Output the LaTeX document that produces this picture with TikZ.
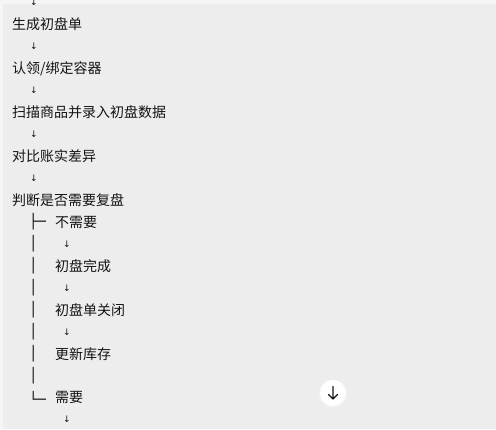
\documentclass[tikz,border=0pt]{standalone}
\usepackage{fontspec}
\usetikzlibrary{positioning}
\newfontfamily\cjk{Noto Sans CJK SC}
\newfontfamily\boxfont{DejaVu Sans Mono}
\newfontfamily\arrowfont{DejaVu Sans}
\definecolor{pagebg}{HTML}{EDEDED}
\definecolor{edgebg}{HTML}{F5F5F5}
\definecolor{ink}{HTML}{141414}

\begin{document}
\begin{tikzpicture}[x=1pt,y=-1pt,
    every node/.style={inner sep=0pt,text=ink},
    step text/.style={anchor=west,font=\cjk\fontsize{14}{16}\selectfont},
    down mark/.style={font=\arrowfont\fontsize{9}{10}\selectfont},
    tree mark/.style={anchor=west,font=\boxfont\fontsize{14}{16}\selectfont}]

    % page
    \useasboundingbox (0,0) rectangle (496,429);
    \fill[pagebg] (0,0) rectangle (496,429);
    \fill[edgebg] (0,0) rectangle (496,4);
    \fill[edgebg] (0,0) rectangle (3,429);

    % main steps
    \node[down mark] (a0) at (34,2.5) {↓};
    \node[step text] (create) at (12,24.45) {生成初盘单};
    \node[down mark] (a1) at (34,46.4) {↓};
    \node[step text] (claim) at (12,68.35) {认领/绑定容器};
    \node[down mark] (a2) at (34,90.3) {↓};
    \node[step text] (scan) at (12,112.25) {扫描商品并录入初盘数据};
    \node[down mark] (a3) at (34,134.2) {↓};
    \node[step text] (compare) at (12,156.15) {对比账实差异};
    \node[down mark] (a4) at (34,178.1) {↓};
    \node[step text] (decide) at (12,200.05) {判断是否需要复盘};

    % branch: no recount
    \node[tree mark] (t0) at (29,222) {├─};
    \node[step text] (norecount) at (55,222) {不需要};
    \node[tree mark] (t1) at (29,243.95) {│};
    \node[down mark] (b1) at (67,243.95) {↓};
    \node[step text] (done) at (55,265.9) {初盘完成};
    \node[tree mark] (t2) at (29,265.9) {│};
    \node[tree mark] (t3) at (29,287.85) {│};
    \node[down mark] (b2) at (67,287.85) {↓};
    \node[step text] (closed) at (55,309.8) {初盘单关闭};
    \node[tree mark] (t4) at (29,309.8) {│};
    \node[tree mark] (t5) at (29,331.75) {│};
    \node[down mark] (b3) at (67,331.75) {↓};
    \node[step text] (stock) at (55,353.7) {更新库存};
    \node[tree mark] (t6) at (29,353.7) {│};
    \node[tree mark] (t7) at (29,375.65) {│};

    % branch: recount
    \node[tree mark] (t8) at (29,397.6) {└─};
    \node[step text] (recount) at (55,397.6) {需要};
    \node[down mark] (b4) at (67,419.55) {↓};

    % scroll button
    \fill[black!6] (333,394) circle (14.5);
    \node[circle,fill=white,minimum size=26pt] (scrollbtn) at (333,393) {};
    \draw[ink,line width=1.3pt,line cap=round,line join=round]
        ([yshift=6.5pt]scrollbtn.center) -- ([yshift=-6pt]scrollbtn.center)
        ([shift={(-4.5pt,-1.5pt)}]scrollbtn.center) -- ([yshift=-6pt]scrollbtn.center)
        -- ([shift={(4.5pt,-1.5pt)}]scrollbtn.center);
\end{tikzpicture}
\end{document}
